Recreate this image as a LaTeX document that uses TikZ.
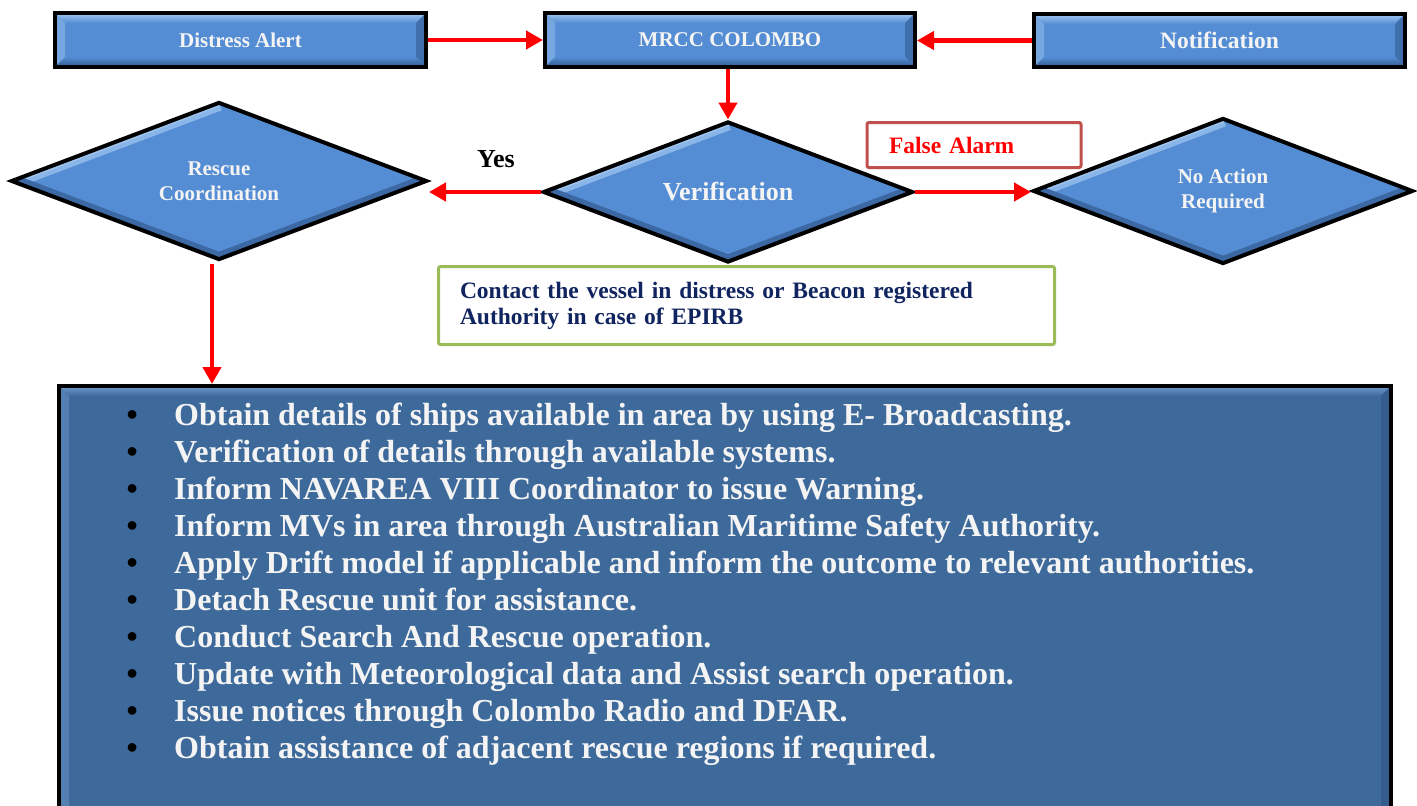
\documentclass[tikz,border=0pt]{standalone}
\usepackage{fontspec}
\setmainfont{Liberation Serif}
\usetikzlibrary{shapes.geometric,arrows.meta,calc}
\definecolor{boxblue}{RGB}{84,141,212}
\definecolor{boxlight}{RGB}{160,198,240}
\definecolor{boxdark}{RGB}{40,75,125}
\definecolor{bigblue}{RGB}{62,106,155}
\definecolor{biglight}{RGB}{110,152,208}
\definecolor{bigdark}{RGB}{38,66,105}
\definecolor{alarmred}{RGB}{192,80,77}
\definecolor{greenedge}{RGB}{155,187,89}
\definecolor{navytext}{RGB}{16,36,96}
\definecolor{offwhite}{RGB}{244,244,244}
\tikzset{
  bevelbox/.style 2 args={rectangle, draw=black, line width=4pt, fill=#1, inner sep=0pt,
    text=offwhite,
    path picture={
      \path (path picture bounding box.north west) coordinate (pNW)
            (path picture bounding box.north east) coordinate (pNE)
            (path picture bounding box.south west) coordinate (pSW)
            (path picture bounding box.south east) coordinate (pSE);
      \shade[top color=#2, bottom color=#1] (pNW) -- (pNE) -- ($(pNE)+(-10,10)$) -- ($(pNW)+(10,10)$) -- cycle;
      \fill[#2!45!#1] (pNW) -- ($(pNW)+(10,10)$) -- ($(pSW)+(10,-10)$) -- (pSW) -- cycle;
      \fill[boxdark!45!#1] (pNE) -- (pSE) -- ($(pSE)+(-10,-10)$) -- ($(pNE)+(-10,10)$) -- cycle;
      \shade[top color=#1, bottom color=boxdark!80!#1] (pSW) -- (pSE) -- ($(pSE)+(-10,-10)$) -- ($(pSW)+(10,-10)$) -- cycle;
    }},
  bevdiamond/.style={diamond, aspect=2.6, draw=black, line width=4pt, fill=boxblue,
    inner sep=0pt, text=offwhite, align=center,
    path picture={
      \draw[line width=16pt, boxlight!70!boxblue] (path picture bounding box.west) -- (path picture bounding box.north);
      \draw[line width=7pt, boxlight] (path picture bounding box.west) -- (path picture bounding box.north);
      \draw[line width=14pt, boxdark!55!boxblue] (path picture bounding box.east) -- (path picture bounding box.south) -- (path picture bounding box.west);
    }},
  topfont/.style={font=\fontsize{21}{25}\selectfont\bfseries},
  redarrow/.style={draw=red, line width=4.5pt, -{Triangle[length=17pt,width=18pt]}},
  listitem/.style={anchor=base west, inner sep=0pt, text=offwhite,
    font=\fontsize{32}{37}\selectfont\bfseries},
}
\begin{document}
\begin{tikzpicture}[x=1pt,y=-1pt]
\path[fill=white, use as bounding box] (0,0) rectangle (1417,806);

% top boxes
\node[bevelbox={boxblue}{boxlight}, topfont, minimum width=371pt, minimum height=54pt] (da) at (240.5,40) {Distress Alert};
\node[bevelbox={boxblue}{boxlight}, topfont, minimum width=370pt, minimum height=54pt] (mrcc) at (730,40) {MRCC COLOMBO};
\node[bevelbox={boxblue}{boxlight}, font=\fontsize{23.5}{27}\selectfont\bfseries, minimum width=371pt, minimum height=53pt] (nt) at (1219.5,40.5) {Notification};

% diamonds
\node[bevdiamond, minimum width=416pt, minimum height=158pt, font=\fontsize{21}{25}\selectfont\bfseries] (rc) at (219,181) {Rescue\\Coordination};
\node[bevdiamond, minimum width=370pt, minimum height=141pt, font=\fontsize{26}{30}\selectfont\bfseries] (vf) at (728,192) {Verification};
\node[bevdiamond, minimum width=380pt, minimum height=146pt, font=\fontsize{21}{25}\selectfont\bfseries] (na) at (1223,191) {No Action\\Required};

% labels
\node[anchor=base west, inner sep=0pt, font=\fontsize{26}{30}\selectfont\bfseries] (yes) at (477,167) {Yes};
\node[draw=alarmred, line width=3pt, rounded corners=2pt, minimum width=213pt, minimum height=45pt,
      text width=170pt, inner xsep=22pt, align=left, text=red,
      font=\fontsize{23.5}{27}\selectfont\bfseries] (fa) at (974,145) {\raisebox{-2pt}{False Alarm}};
\node[draw=greenedge, line width=3pt, rounded corners=2pt, minimum width=616pt, minimum height=78pt,
      text width=573pt, inner xsep=21.5pt, align=left, text=navytext,
      font=\fontsize{23.5}{26}\selectfont\bfseries] (gb) at (746.5,305.5)
      {Contact the vessel in distress or Beacon registered\\Authority in case of EPIRB};

% connectors
\draw[redarrow] (da.east) -- (mrcc.west);
\draw[redarrow] (nt.west) -- (nt.west -| mrcc.east);
\draw[redarrow] (vf.north |- mrcc.south) -- (vf.north);
\draw[redarrow] (vf.west) -- (vf.west -| rc.east);
\draw[redarrow] (vf.east) -- (vf.east -| na.west);
\coordinate (rcs) at ($(rc.south)+(-7,2)$);

% big box
\node[bevelbox={bigblue}{biglight}, anchor=north west, minimum width=1332pt, minimum height=460pt] (big) at (57,384) {};
\draw[redarrow] (rcs) -- (rcs |- big.north);

\foreach \t [count=\i from 0] in {
  {Obtain details of ships available in area by using E- Broadcasting.},
  {Verification of details through available systems.},
  {Inform NAVAREA VIII Coordinator to issue Warning.},
  {Inform MVs in area through Australian Maritime Safety Authority.},
  {Apply Drift model if applicable and inform the outcome to relevant authorities.},
  {Detach Rescue unit for assistance.},
  {Conduct Search And Rescue operation.},
  {Update with Meteorological data and Assist search operation.},
  {Issue notices through Colombo Radio and DFAR.},
  {Obtain assistance of adjacent rescue regions if required.}}
  \node[listitem] (item\i) at (126.5,{425+37*\i}) {\makebox[47.5pt][l]{\color{black}\textbullet}\t};
\end{tikzpicture}
\end{document}
